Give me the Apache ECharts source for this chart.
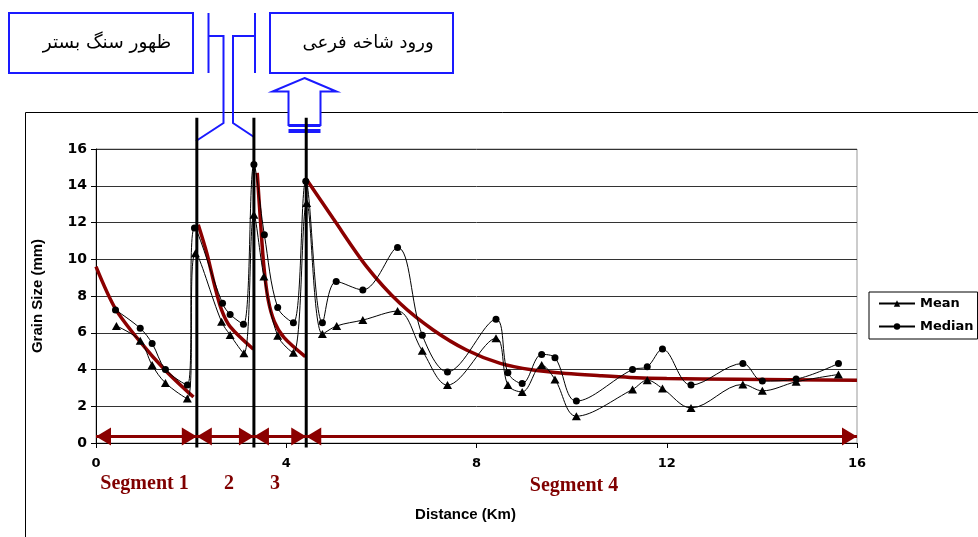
<!DOCTYPE html>
<html>
<head>
<meta charset="utf-8">
<script src="https://cdn.jsdelivr.net/npm/echarts@6/dist/echarts.min.js"></script>
<style>html,body{margin:0;padding:0;background:#fff}#c{width:978px;height:537px}</style>
</head>
<body>
<div id="c"></div>
<script>
// ---- data ----
const distMean = [0.43,0.93,1.18,1.46,1.92,2.09,2.64,2.82,3.11,3.32,3.53,3.82,4.15,4.43,4.76,5.06,5.61,6.34,6.86,7.39,8.41,8.66,8.96,9.37,9.65,10.1,11.28,11.59,11.91,12.51,13.6,14.01,14.72,15.61];
const meanVals = [6.37,5.57,4.24,3.27,2.42,10.33,6.6,5.88,4.88,12.42,9.06,5.84,4.91,13.06,5.93,6.37,6.69,7.18,5.02,3.15,5.7,3.15,2.78,4.24,3.46,1.46,2.91,3.42,2.97,1.91,3.19,2.84,3.33,3.73];
const distMedian = [0.41,0.93,1.18,1.46,1.92,2.07,2.66,2.82,3.10,3.32,3.54,3.82,4.15,4.41,4.76,5.05,5.61,6.34,6.86,7.39,8.41,8.66,8.96,9.37,9.65,10.1,11.28,11.59,11.91,12.51,13.6,14.01,14.72,15.61];
const medianVals = [7.24,6.24,5.42,4.0,3.15,11.7,7.6,7.0,6.46,15.15,11.33,7.37,6.55,14.24,6.55,8.79,8.33,10.64,5.87,3.87,6.73,3.82,3.24,4.82,4.64,2.28,4.0,4.15,5.11,3.15,4.33,3.37,3.48,4.33];

// trend curves per segment
const fit1X = [0, 0.41, 0.93, 1.46, 2.05];
const fit1Y = [9.6, 7.3, 5.5, 3.95, 2.5];
const fit2X = [2.15, 2.33, 2.50, 2.64, 2.82, 3.31];
const fit2Y = [11.88, 10.33, 8.51, 7.24, 6.33, 5.1];
const fit3X = [3.39, 3.46, 3.53, 3.62, 3.75, 3.95, 4.40];
const fit3Y = [14.7, 12.0, 9.6, 7.8, 6.6, 5.75, 4.7];
const fit4X = [4.42, 4.99, 5.69, 6.39, 7.09, 7.79, 8.5, 9.19, 9.89, 10.6, 11.23, 12.0, 13.5, 16.0];
const fit4Y = [14.37, 12.2, 9.6, 7.6, 6.15, 5.06, 4.33, 3.97, 3.78, 3.66, 3.57, 3.51, 3.47, 3.42];

// segment boundaries (km) and the arrow level
const segBounds = [0, 2.12, 3.32, 4.42, 16];
const arrowLevel = 0.35;
const boundLineRange = [-0.25, 17.7];

const xTicks = [0, 4, 8, 12, 16];
const segLabels = ['Segment 1', '2', '3', 'Segment 4'];
const noteLeft = 'ظهور سنگ بستر';
const noteRight = 'ورود شاخه فرعی';

// ---- build ----
const zip = (xs, ys) => xs.map((x, i) => [x, ys[i]]);
const RED = '#8b0000';
const BLUE = '#1a1aff';

const fitSeries = [[fit1X, fit1Y], [fit2X, fit2Y], [fit3X, fit3Y], [fit4X, fit4Y]].map(([xs, ys]) => ({
  type: 'line', data: zip(xs, ys), smooth: 0.3, symbol: 'none', silent: true,
  lineStyle: { color: RED, width: 3.5 }, z: 3
}));

const boundSeries = segBounds.slice(1, 4).map(b => ({
  type: 'line', data: [[b, boundLineRange[0]], [b, boundLineRange[1]]], symbol: 'none', clip: false, silent: true,
  lineStyle: { color: '#000', width: 3 }, z: 4
}));

const arrowSeries = {
  type: 'line', data: [], silent: true, clip: false,
  markLine: {
    silent: true, symbol: ['triangle', 'triangle'], symbolSize: [18, 15],
    symbolOffset: [[0, 7.5], [0, 7.5]],
    label: { show: false },
    lineStyle: { color: RED, width: 3, type: 'solid' },
    emphasis: { disabled: true },
    data: segBounds.slice(0, 4).map((b, i) => [{ coord: [b, arrowLevel] }, { coord: [segBounds[i + 1], arrowLevel] }])
  }
};

const axisFont = { fontFamily: 'DejaVu Sans', fontWeight: 'bold', color: '#000' };

const option = {
  animation: false,
  backgroundColor: '#fff',
  grid: { left: 96, right: 121, top: 149, bottom: 94, show: true, borderColor: '#999', borderWidth: 1, backgroundColor: 'transparent' },
  legend: {
    data: ['Mean', 'Median'], orient: 'vertical', left: 869, top: 292,
    borderColor: '#000', borderWidth: 1, padding: [5, 4, 6, 9], itemGap: 10,
    itemWidth: 36, itemHeight: 8,
    textStyle: { fontFamily: 'DejaVu Sans', fontWeight: 'bold', fontSize: 13, color: '#000' }
  },
  xAxis: {
    type: 'value', min: xTicks[0], max: xTicks[xTicks.length - 1], interval: 4,
    name: 'Distance (Km)', nameLocation: 'middle', nameGap: 64,
    nameTextStyle: { fontFamily: 'Liberation Sans', fontWeight: 'bold', fontSize: 15, color: '#000', padding: [0, 22, 0, 0] },
    axisLine: { lineStyle: { color: '#000', width: 1 } },
    axisTick: { show: true, length: 5, lineStyle: { color: '#000' } },
    axisLabel: Object.assign({ fontSize: 13, margin: 14 }, axisFont),
    splitLine: { show: false }
  },
  yAxis: {
    type: 'value', min: 0, max: 16, interval: 2,
    name: 'Grain Size (mm)', nameLocation: 'middle', nameGap: 51, nameRotate: 90,
    nameTextStyle: { fontFamily: 'Liberation Sans', fontWeight: 'bold', fontSize: 15, color: '#000' },
    axisLine: { show: true, lineStyle: { color: '#000', width: 1 } },
    axisTick: { show: true, length: 5, lineStyle: { color: '#000' } },
    axisLabel: Object.assign({ fontSize: 14, margin: 9 }, axisFont),
    splitLine: { show: true, lineStyle: { color: '#333', width: 1 } }
  },
  series: [
    {
      name: 'Mean', type: 'line', data: zip(distMean, meanVals), smooth: 0.35,
      symbol: 'triangle', symbolSize: [9, 8], color: '#000',
      itemStyle: { color: '#000' }, lineStyle: { color: '#000', width: 1 }, z: 5
    },
    {
      name: 'Median', type: 'line', data: zip(distMedian, medianVals), smooth: 0.35,
      symbol: 'circle', symbolSize: 7, color: '#000',
      itemStyle: { color: '#000' }, lineStyle: { color: '#000', width: 1 }, z: 5
    },
    ...fitSeries,
    ...boundSeries,
    arrowSeries
  ],
  graphic: [
    { type: 'rect', silent: true, shape: { x: 25.5, y: 112.5, width: 1000, height: 500 }, style: { fill: 'none', stroke: '#000', lineWidth: 1 }, z: -1 },
    // annotation boxes
    { type: 'rect', silent: true, shape: { x: 9, y: 13, width: 184, height: 60 }, style: { fill: '#fff', stroke: BLUE, lineWidth: 2 } },
    { type: 'text', silent: true, x: 107, y: 43, style: { text: noteLeft, fontFamily: 'DejaVu Sans', fontSize: 18.5, fill: '#000', align: 'center', verticalAlign: 'middle' } },
    { type: 'rect', silent: true, shape: { x: 270, y: 13, width: 183, height: 60 }, style: { fill: '#fff', stroke: BLUE, lineWidth: 2 } },
    { type: 'text', silent: true, x: 368, y: 43, style: { text: noteRight, fontFamily: 'DejaVu Sans', fontSize: 18, fill: '#000', align: 'center', verticalAlign: 'middle' } },
    // brackets
    { type: 'polyline', silent: true, shape: { points: [[208.5, 13], [208.5, 73]] }, style: { stroke: BLUE, lineWidth: 2, fill: null } },
    { type: 'polyline', silent: true, shape: { points: [[208.5, 36], [223.5, 36], [223.5, 123], [196, 141]] }, style: { stroke: BLUE, lineWidth: 2, fill: null } },
    { type: 'polyline', silent: true, shape: { points: [[255, 13], [255, 73]] }, style: { stroke: BLUE, lineWidth: 2, fill: null } },
    { type: 'polyline', silent: true, shape: { points: [[255, 36], [233, 36], [233, 123], [254, 137]] }, style: { stroke: BLUE, lineWidth: 2, fill: null } },
    // up arrow
    { type: 'polygon', silent: true, shape: { points: [[304.5, 78], [336.5, 91.5], [320.5, 91.5], [320.5, 125], [288.5, 125], [288.5, 91.5], [272.5, 91.5]] }, style: { fill: '#fff', stroke: BLUE, lineWidth: 2 } },
    { type: 'rect', silent: true, shape: { x: 288.5, y: 124, width: 32, height: 3 }, style: { fill: BLUE } },
    { type: 'rect', silent: true, shape: { x: 288.5, y: 129, width: 32, height: 4 }, style: { fill: BLUE } },
    // segment labels
    { type: 'text', silent: true, x: 144.5, y: 484, style: { text: segLabels[0], fontFamily: 'Liberation Serif', fontWeight: 'bold', fontSize: 20, fill: '#800000', align: 'center', verticalAlign: 'middle' } },
    { type: 'text', silent: true, x: 229, y: 484, style: { text: segLabels[1], fontFamily: 'Liberation Serif', fontWeight: 'bold', fontSize: 20, fill: '#800000', align: 'center', verticalAlign: 'middle' } },
    { type: 'text', silent: true, x: 275, y: 484, style: { text: segLabels[2], fontFamily: 'Liberation Serif', fontWeight: 'bold', fontSize: 20, fill: '#800000', align: 'center', verticalAlign: 'middle' } },
    { type: 'text', silent: true, x: 574, y: 486, style: { text: segLabels[3], fontFamily: 'Liberation Serif', fontWeight: 'bold', fontSize: 20, fill: '#800000', align: 'center', verticalAlign: 'middle' } }
  ]
};

const chart = echarts.init(document.getElementById('c'), null, { renderer: 'canvas' });
chart.setOption(option);
</script>
</body>
</html>
